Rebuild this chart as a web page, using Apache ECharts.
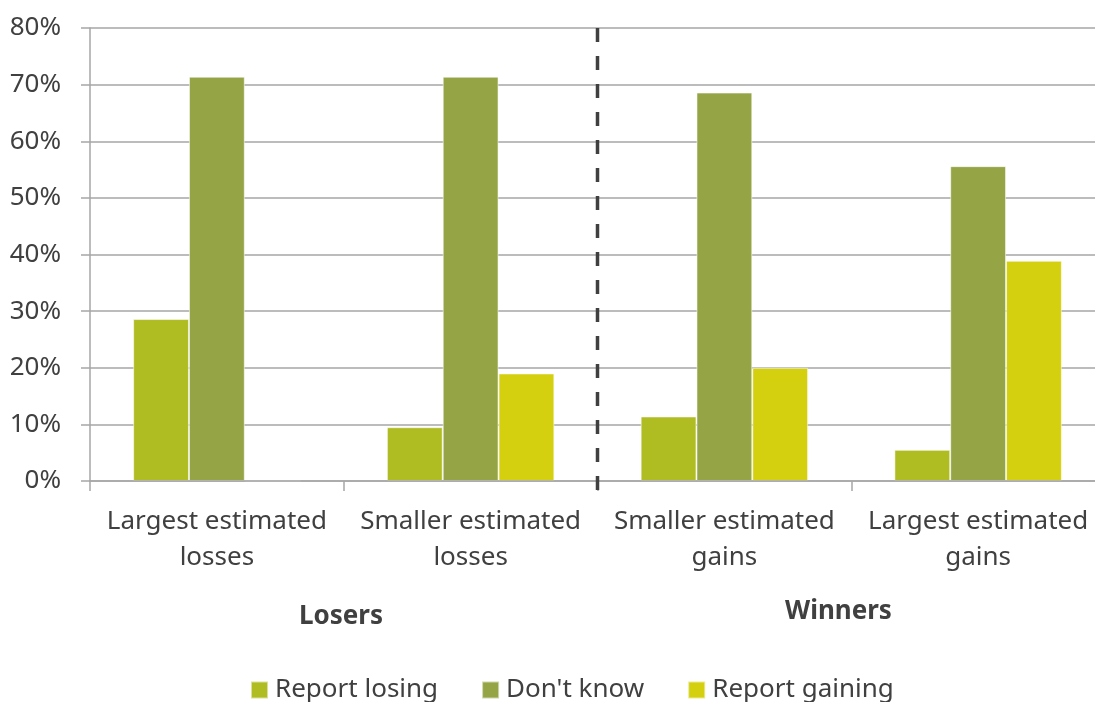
<!DOCTYPE html>
<html><head><meta charset="utf-8">
<script src="https://cdn.jsdelivr.net/npm/echarts@6/dist/echarts.min.js"></script>
<style>html,body{margin:0;padding:0;background:#fff}#c{width:1095px;height:702px}</style>
</head><body><div id="c"></div>
<script>
const categories = ["Largest estimated\nlosses", "Smaller estimated\nlosses", "Smaller estimated\ngains", "Largest estimated\ngains"];
const reportLosing = [28.6, 9.5, 11.4, 5.5];
const dontKnow = [71.4, 71.4, 68.6, 55.6];
const reportGaining = [0, 19.0, 20.0, 38.9];
const seriesNames = ["Report losing", "Don't know", "Report gaining"];
const groupLabels = ["Losers", "Winners"];
const yTicks = [0, 10, 20, 30, 40, 50, 60, 70, 80];
const dividerX = [2, 2];
const dividerY = [-1.6, 81.5];

const colors = ["#AFBD22", "#95A444", "#D4D00F"];
const FONT = "Noto Sans";
const chart = echarts.init(document.getElementById('c'), null, {renderer: 'canvas'});
const barStyle = c => ({color: c, borderColor: 'rgba(255,255,255,0.55)', borderWidth: 1});
chart.setOption({
  animation: false,
  textStyle: {fontFamily: FONT},
  grid: {left: 90, top: 28, width: 1015, height: 453, containLabel: false, outerBoundsMode: 'none'},
  legend: {
    bottom: -6, left: 245, itemWidth: 17, itemHeight: 17, itemGap: 43, icon: 'rect',
    textStyle: {fontFamily: FONT, fontSize: 26, color: '#404040', padding: [0, 0, 0, 2]},
    data: seriesNames
  },
  xAxis: [{
    type: 'category', data: categories, z: 5,
    axisLine: {show: true, lineStyle: {color: '#A6A6A6', width: 1.5}},
    axisTick: {show: true, length: 10, lineStyle: {color: '#A6A6A6', width: 1.5}},
    axisLabel: {fontFamily: FONT, fontSize: 26, color: '#404040', lineHeight: 36, margin: 23, interval: 0}
  }, {
    type: 'value', min: 0, max: 4, show: false
  }],
  yAxis: {
    type: 'value', min: 0, max: 80, interval: 10,
    axisLine: {show: true, lineStyle: {color: '#A6A6A6', width: 1.5}},
    axisTick: {show: true, length: 9, lineStyle: {color: '#A6A6A6', width: 1.5}},
    splitLine: {show: true, lineStyle: {color: '#A6A6A6', width: 1.5}},
    axisLabel: {fontFamily: FONT, fontSize: 26, color: '#404040', margin: 29,
      formatter: v => yTicks.includes(v) ? v + '%' : ''}
  },
  series: [
    {name: seriesNames[0], type: 'bar', data: reportLosing, itemStyle: barStyle(colors[0]), barGap: '0%', barCategoryGap: '34%'},
    {name: seriesNames[1], type: 'bar', data: dontKnow, itemStyle: barStyle(colors[1]), barGap: '0%', barCategoryGap: '34%'},
    {name: seriesNames[2], type: 'bar', data: reportGaining, itemStyle: barStyle(colors[2]), barGap: '0%', barCategoryGap: '34%'},
    {type: 'line', xAxisIndex: 1, data: dividerX.map((x, i) => [x, dividerY[i]]), clip: false, symbol: 'none', silent: true,
     lineStyle: {color: '#404040', width: 3.5, type: [14, 14]}, z: 10}
  ],
  graphic: [
    {type: 'text', left: 299, top: 604, style: {text: groupLabels[0], font: 'bold 26px "Noto Sans"', fill: '#404040'}},
    {type: 'text', left: 785, top: 599, style: {text: groupLabels[1], font: 'bold 26px "Noto Sans"', fill: '#404040'}}
  ]
});
</script></body></html>
